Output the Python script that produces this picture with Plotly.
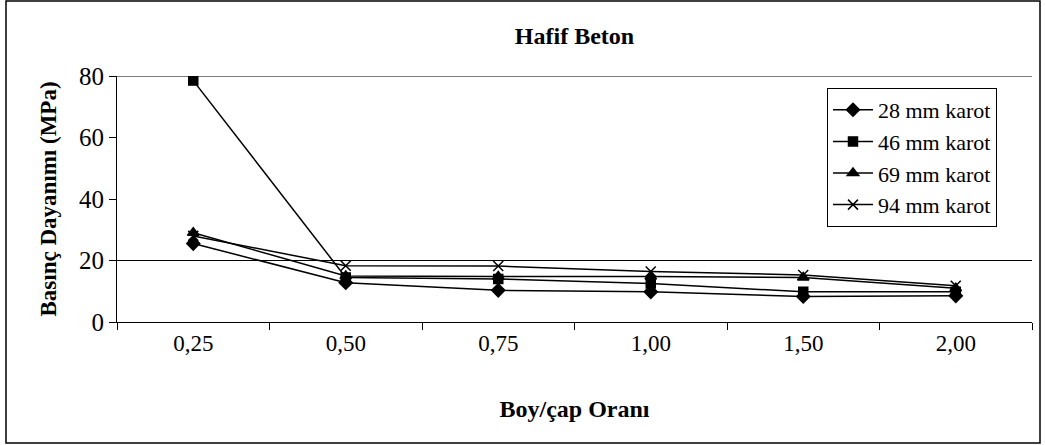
import plotly.graph_objects as go

categories = ["0,25", "0,50", "0,75", "1,00", "1,50", "2,00"]
series_names = ["28 mm karot", "46 mm karot", "69 mm karot", "94 mm karot"]
s28 = [25.5, 12.8, 10.3, 9.8, 8.3, 8.5]
s46 = [78.5, 14.5, 14.0, 12.5, 9.8, 9.8]
s69 = [29.0, 15.0, 14.8, 14.8, 14.5, 11.0]
s94 = [28.0, 18.3, 18.2, 16.4, 15.3, 11.8]
y_ticks = [0, 20, 40, 60, 80]
grid_values = [20, 80]

FONT = "Liberation Serif, Times New Roman, serif"
symbols = ["diamond", "square", "triangle-up", "x-thin-open"]
sizes = [10, 9, 10, 10]

L, R, T, B = 117, 13, 76, 123
W, H = 1045, 445
PW, PH = W - L - R, H - T - B

fig = go.Figure()
for name, vals, sym, sz in zip(series_names, [s28, s46, s69, s94], symbols, sizes):
    fig.add_trace(go.Scatter(
        x=categories, y=vals, name=name, mode="lines+markers",
        line=dict(color="black", width=1.5),
        marker=dict(symbol=sym, size=sz, color="black",
                    line=dict(color="black", width=1.5)),
    ))

for g in grid_values:
    fig.add_shape(type="line", xref="paper", x0=0, x1=1, yref="y", y0=g, y1=g,
                  line=dict(color="black", width=1.2), layer="below")

# outer chart border
fig.add_shape(type="rect", xref="paper", yref="paper",
              x0=(6 - L) / PW, x1=(1040 - L) / PW,
              y0=(H - B - 443) / PH, y1=(H - B - 1) / PH,
              line=dict(color="black", width=1.5))

fig.update_layout(
    width=W, height=H,
    margin=dict(l=L, r=R, t=T, b=B),
    paper_bgcolor="white", plot_bgcolor="white",
    font=dict(family=FONT, color="black", size=22),
    title=dict(text="<b>Hafif Beton</b>", x=(L + PW / 2) / W, xanchor="center",
               y=1 - 36 / H, yanchor="middle", font=dict(size=24, family=FONT)),
    showlegend=True,
    legend=dict(x=(827 - L) / PW, y=(H - B - 88) / PH, xanchor="left", yanchor="top",
                bordercolor="black", borderwidth=1, bgcolor="white",
                font=dict(size=22, family=FONT), tracegroupgap=0,
                itemwidth=40),
    xaxis=dict(
        type="category", categoryorder="array", categoryarray=categories,
        showgrid=False, zeroline=False, showline=True, linecolor="black", linewidth=1.2,
        ticks="outside", ticklen=7, tickcolor="black", tickson="boundaries",
        tickfont=dict(size=23, family=FONT),
        title=dict(text="<b>Boy/çap Oranı</b>", font=dict(size=24, family=FONT), standoff=45),
        range=[-0.5, 5.5],
    ),
    yaxis=dict(
        range=[0, 80], tickvals=y_ticks, showgrid=False, zeroline=False,
        showline=True, linecolor="black", linewidth=1.2,
        ticks="outside", ticklen=7, tickcolor="black",
        tickfont=dict(size=25, family=FONT),
        title=dict(text="<b>Basınç Dayanımı (MPa)</b>", font=dict(size=23, family=FONT), standoff=15),
    ),
)

fig.write_html("out.html", config={"displayModeBar": False},
               post_script="document.body.style.margin='0';")
